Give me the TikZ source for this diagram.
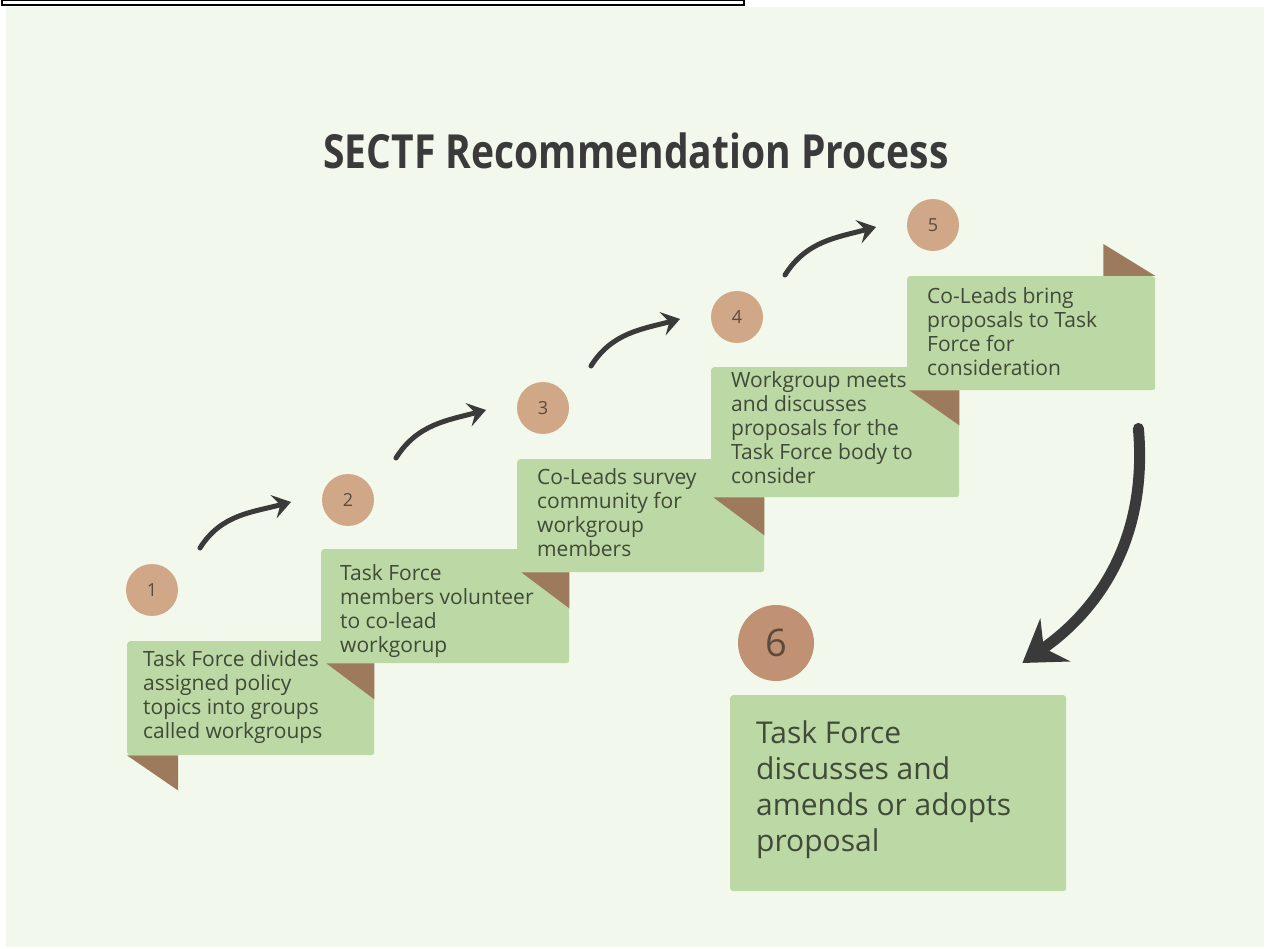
\documentclass[tikz,border=0pt]{standalone}
\usepackage{fontspec}
\setmainfont{Open Sans}
\usetikzlibrary{calc,arrows.meta}
\definecolor{paper}{RGB}{242,248,236}
\definecolor{leaf}{RGB}{188,216,164}
\definecolor{bark}{RGB}{158,122,92}
\definecolor{tan}{RGB}{209,168,135}
\definecolor{tandark}{RGB}{192,145,115}
\definecolor{ink}{RGB}{58,58,58}
\definecolor{leaftext}{RGB}{63,74,56}
\definecolor{numtext}{RGB}{91,74,62}

\begin{document}
\begin{tikzpicture}[x=1pt,y=-1pt,
    box/.style={fill=leaf,rounded corners=3pt,inner sep=0pt,anchor=north west},
    boxtext/.style={text=leaftext,align=left,inner sep=0pt,anchor=north west,font=\fontsize{21}{24}\selectfont},
    fold/.style={fill=bark},
    numdot/.style={circle,fill=tan,minimum size=52pt,inner sep=0pt,text=numtext,font=\fontsize{18}{18}\selectfont},
    flow/.style={ink,line width=5pt,line cap=round,-{Stealth[length=18pt,width=24pt,inset=7pt]}}]

          \useasboundingbox (0,0) rectangle (1267,949);
          \fill[paper] (6,7) rectangle (1264,947);
          \draw[line width=1.5pt] (2,0.75) rectangle (744,5);

          \node[font=\fontsize{47}{47}\selectfont\bfseries,text=ink,xscale=0.83] (title) at (636,151) {SECTF Recommendation Process};

          \node[box,minimum width=247pt,minimum height=114pt] (b1) at (127,641) {};
          \node[box,minimum width=248pt,minimum height=114pt] (b2) at (321,549) {};
          \node[box,minimum width=247pt,minimum height=113pt] (b3) at (517,459) {};
          \node[box,minimum width=248pt,minimum height=130pt] (b4) at (711,367) {};
          \node[box,minimum width=248pt,minimum height=114pt] (b5) at (907,276) {};
          \node[box,minimum width=336pt,minimum height=196pt] (b6) at (730,695) {};

          \fill[fold] (b1.south west) -- ++(51,0) -- ++(0,35) -- cycle;
          \fill[fold] (b2.south -| b1.east) -- ++(-48,0) -- ++(48,36) -- cycle;
          \fill[fold] (b3.south -| b2.east) -- ++(-48,0) -- ++(48,36) -- cycle;
          \fill[fold] (b4.south -| b3.east) -- ++(-51,0) -- ++(51,38) -- cycle;
          \fill[fold] (b5.south -| b4.east) -- ++(-50,0) -- ++(50,35) -- cycle;
          \fill[fold] (b5.north east) -- ++(-52,0) -- ++(0,-32) -- cycle;

          \node[boxtext] (t1) at (143,650) {Task Force divides\\assigned policy\\topics into groups\\called workgroups};
          \node[boxtext] (t2) at (340,564) {Task Force\\members volunteer\\to co-lead\\workgorup};
          \node[boxtext] (t3) at (537,468) {Co-Leads survey\\community for\\workgroup\\members};
          \node[boxtext] (t4) at (731,371) {Workgroup meets\\and discusses\\proposals for the\\Task Force body to\\consider};
          \node[boxtext] (t5) at (927,287) {Co-Leads bring\\proposals to Task\\Force for\\consideration};
          \node[boxtext,font=\fontsize{30}{36}\selectfont] (t6) at (756,721) {Task Force\\discusses and\\amends or adopts\\proposal};

          \node[numdot] (c1) at (152,590) {1};
          \node[numdot] (c2) at (348,500) {2};
          \node[numdot] (c3) at (543,408) {3};
          \node[numdot] (c4) at (737,317) {4};
          \node[numdot] (c5) at (933,225) {5};
          \node[numdot,fill=tandark,minimum size=76pt,font=\fontsize{38}{38}\selectfont] (c6) at (776,643) {6};

          \foreach \i/\j in {1/2,2/3,3/4,4/5}
            \draw[flow] ($(c\i)+(48,-42)$) to[out=58,in=195] ($(c\j)+(-57,2)$);
          \draw[ink,line width=11pt,line cap=round,-{Stealth[length=40pt,width=52pt,inset=14pt]}]
                ($(b5.south east)+(-17,38)$) to[out=-85,in=35] ($(b6.north east)+(-44,-32)$);
        \end{tikzpicture}
\end{document}
